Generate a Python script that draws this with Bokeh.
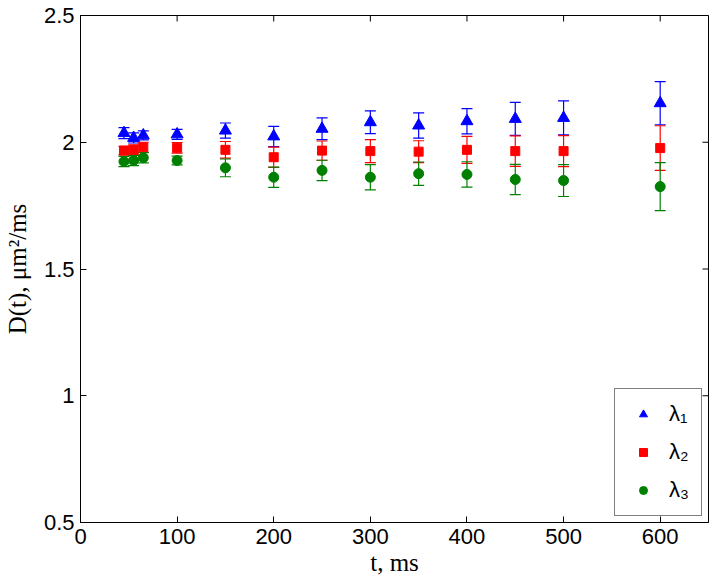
import math
from bokeh.plotting import figure
from bokeh.models import (ColumnDataSource, Whisker, TeeHead, FixedTicker,
                          Range1d, Legend, LegendItem)
from bokeh.embed import file_html
from bokeh.resources import INLINE

# ---- data ----
t_ms = [45, 55, 65, 100, 150, 200, 250, 300, 350, 400, 450, 500, 600]

lambda1 = [2.036, 2.017, 2.027, 2.031, 2.046, 2.023, 2.053, 2.079, 2.066, 2.083, 2.092, 2.096, 2.154]
err1 = [0.022, 0.020, 0.018, 0.020, 0.030, 0.040, 0.043, 0.045, 0.050, 0.050, 0.065, 0.067, 0.085]

lambda2 = [1.967, 1.970, 1.980, 1.978, 1.970, 1.941, 1.967, 1.965, 1.963, 1.970, 1.965, 1.965, 1.977]
err2 = [0.017, 0.020, 0.020, 0.021, 0.033, 0.040, 0.038, 0.045, 0.043, 0.053, 0.060, 0.061, 0.088]

lambda3 = [1.924, 1.928, 1.939, 1.928, 1.899, 1.862, 1.889, 1.862, 1.876, 1.873, 1.853, 1.849, 1.825]
err3 = [0.020, 0.020, 0.020, 0.017, 0.035, 0.040, 0.040, 0.050, 0.046, 0.050, 0.060, 0.063, 0.095]

series_labels = ["λ₁", "λ₂", "λ₃"]
x_ticks = [0, 100, 200, 300, 400, 500, 600]
y_ticks = [0.5, 1, 1.5, 2, 2.5]
y_tick_labels = ["0.5", "1", "1.5", "2", "2.5"]
x_min, x_max = 0, 650
y_min, y_max = 0.5, 2.5

TICK_FONT = "Liberation Sans"
LABEL_FONT = "Liberation Serif"

p = figure(width=712, height=582, output_backend="svg", toolbar_location=None,
           x_range=Range1d(x_min, x_max), y_range=Range1d(y_min, y_max),
           min_border_left=80, min_border_top=15, min_border_right=4, min_border_bottom=60)
p.xgrid.visible = False
p.ygrid.visible = False
p.outline_line_color = "black"
p.outline_line_width = 1
p.background_fill_color = "white"
p.border_fill_color = "white"

xa = p.xaxis[0]
ya = p.yaxis[0]
for ax, ticks in ((xa, x_ticks), (ya, y_ticks)):
    ax.ticker = FixedTicker(ticks=ticks)
    ax.major_tick_in = 6
    ax.major_tick_out = 0
    ax.minor_tick_line_color = None
    ax.axis_line_color = "black"
    ax.major_tick_line_color = "black"
    ax.major_label_text_font = TICK_FONT
    ax.major_label_text_font_size = "22px"
    ax.major_label_text_color = "black"
    ax.major_label_standoff = 6
    ax.axis_label_text_font = LABEL_FONT
    ax.axis_label_text_font_size = "25px"
    ax.axis_label_text_font_style = "normal"
    ax.axis_label_text_color = "black"
ya.major_label_overrides = {v: s for v, s in zip(y_ticks, y_tick_labels)}
xa.axis_label = "t, ms"
ya.axis_label = "D(t), μm²/ms"
xa.axis_label_standoff = 2
ya.axis_label_standoff = 10

# inward ticks on the top and right edges of the box (half of each dash is clipped by the frame)
p.scatter(x=x_ticks, y=[y_max] * len(x_ticks), marker="dash", angle=math.pi / 2,
          size=12, line_color="black", line_width=1)
p.scatter(x=[x_max] * len(y_ticks), y=y_ticks, marker="dash",
          size=12, line_color="black", line_width=1)

colors = ["#0000ff", "#ff0000", "#008000"]
markers = ["triangle", "square", "circle"]
sizes = [12, 9, 10]
vals = [lambda1, lambda2, lambda3]
errs = [err1, err2, err3]

items = []
for lab, c, m, s, v, e in zip(series_labels, colors, markers, sizes, vals, errs):
    src = ColumnDataSource(dict(t=t_ms, v=v,
                                up=[a + b for a, b in zip(v, e)],
                                lo=[a - b for a, b in zip(v, e)]))
    w = Whisker(base="t", upper="up", lower="lo", source=src, dimension="height",
                line_color=c, line_width=1.2,
                upper_head=TeeHead(size=11, line_color=c, line_width=1.2),
                lower_head=TeeHead(size=11, line_color=c, line_width=1.2))
    p.add_layout(w)
    r = p.scatter("t", "v", source=src, marker=m, size=s, fill_color=c, line_color=c)
    items.append(LegendItem(label=lab, renderers=[r]))

legend = Legend(items=items, location="bottom_right")
legend.margin = 6
legend.padding = 12
legend.spacing = 12
legend.glyph_width = 32
legend.glyph_height = 20
legend.label_height = 20
legend.label_standoff = 10
legend.label_text_font = TICK_FONT
legend.label_text_font_size = "22px"
legend.label_text_color = "black"
legend.border_line_color = "black"
legend.border_line_width = 1
legend.background_fill_alpha = 1
p.add_layout(legend)

open("out.html", "w").write(file_html(p, INLINE))
